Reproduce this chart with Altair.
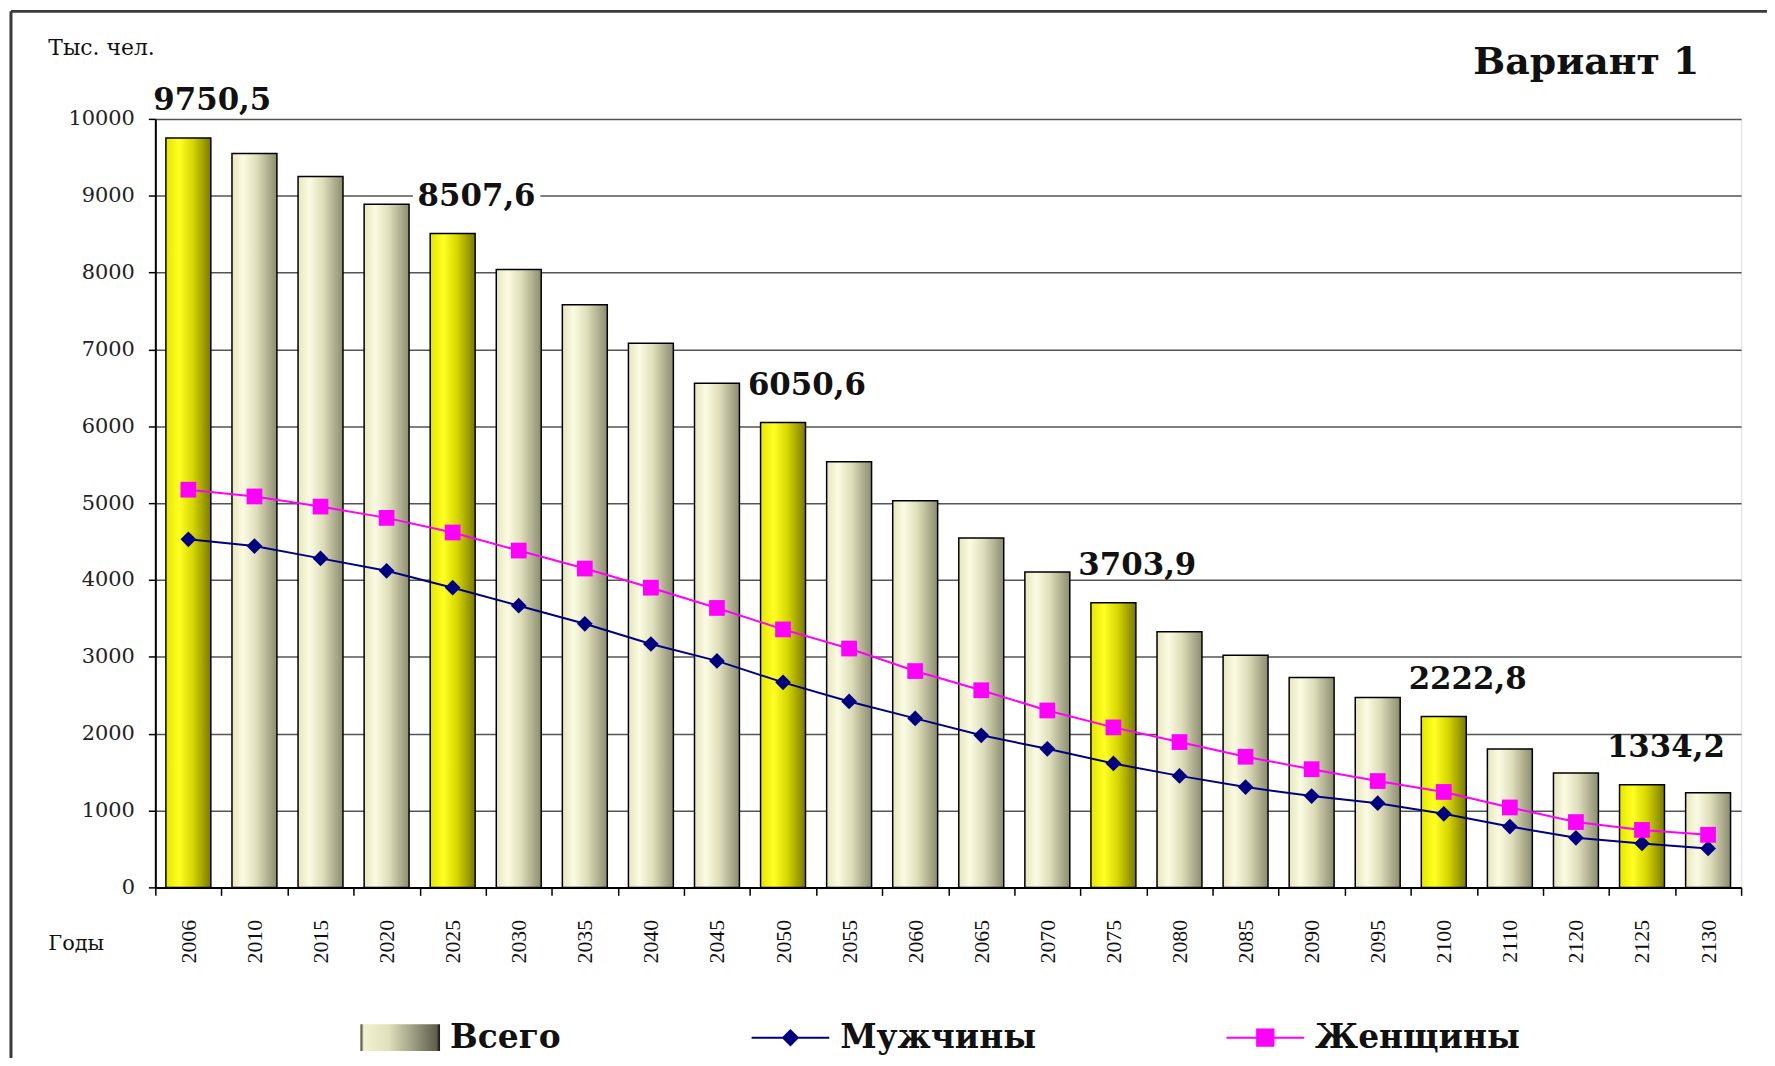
import altair as alt
import pandas as pd

years = ["2006", "2010", "2015", "2020", "2025", "2030", "2035", "2040", "2045", "2050",
         "2055", "2060", "2065", "2070", "2075", "2080", "2085", "2090", "2095", "2100",
         "2110", "2120", "2125", "2130"]
total = [9750.5, 9550, 9250, 8890, 8507.6, 8040, 7580, 7080, 6560, 6050.6,
         5540, 5030, 4545, 4105, 3703.9, 3328, 3020, 2730, 2470, 2222.8,
         1802, 1488, 1334.2, 1231]
men = [4530, 4442, 4281, 4119, 3900, 3665, 3430, 3167, 2947, 2668,
       2419, 2199, 1979, 1803, 1613, 1451, 1305, 1188, 1095, 958,
       791, 645, 572, 507]
women = [5175, 5087, 4955, 4808, 4618, 4383, 4149, 3900, 3636, 3357,
         3108, 2815, 2565, 2302, 2082, 1891, 1700, 1538, 1384, 1242,
         1040, 850, 748, 684]
highlight_years = ["2006", "2025", "2050", "2075", "2100", "2125"]
highlight_labels = ["9750,5", "8507,6", "6050,6", "3703,9", "2222,8", "1334,2"]
series_names = ["Всего", "Мужчины", "Женщины"]

bars_df = pd.DataFrame({"year": years, "value": total,
                        "hl": [y in highlight_years for y in years]})
lines_df = pd.DataFrame({"year": years + years, "value": men + women,
                         "series": [series_names[1]] * len(years) + [series_names[2]] * len(years)})
lab_df = bars_df[bars_df["hl"]].copy()
lab_df["label"] = highlight_labels

PW, PH = 1593, 772
SERIF = "DejaVu Serif"

grad_plain = alt.Gradient(gradient="linear", x1=0, x2=1, y1=0, y2=0, stops=[
    alt.GradientStop(color="#e6e6be", offset=0),
    alt.GradientStop(color="#fbfbe2", offset=0.25),
    alt.GradientStop(color="#dedeba", offset=0.55),
    alt.GradientStop(color="#8c8c70", offset=1)])
grad_yellow = alt.Gradient(gradient="linear", x1=0, x2=1, y1=0, y2=0, stops=[
    alt.GradientStop(color="#e6e600", offset=0),
    alt.GradientStop(color="#ffff26", offset=0.3),
    alt.GradientStop(color="#d6d600", offset=0.6),
    alt.GradientStop(color="#7a7a00", offset=1)])

legend_grad_expr = ("{gradient: 'linear', x1: 0, y1: 0, x2: 1, y2: 0, "
                    "stops: [{offset: 0, color: '#5a5a48'}, {offset: 0.03, color: '#f2f2d2'}, "
                    "{offset: 0.35, color: '#e0e0bc'}, {offset: 0.97, color: '#5e5e4c'}, "
                    "{offset: 1, color: '#202018'}]}")
series_colors = [alt.ExprRef(legend_grad_expr), "#000080", "#ff00ff"]

x_enc = alt.X("year:N", sort=years,
              scale=alt.Scale(paddingInner=0, paddingOuter=0),
              axis=alt.Axis(title="Годы", titleAngle=0, titleX=-108, titleY=56,
                            titleAlign="left", titleBaseline="middle",
                            titleFont=SERIF, titleFontSize=21, titleFontWeight="normal",
                            titleColor="#111",
                            labelAngle=270, labelAlign="right", labelBaseline="middle",
                            labelPadding=24, labelFont="Liberation Serif", labelFontSize=22,
                            labelColor="#111", labelOverlap=False,
                            tickBand="extent", tickSize=8, tickColor="#000", tickWidth=1.5,
                            domainColor="#000", domainWidth=2, grid=False))
y_enc = alt.Y("value:Q", scale=alt.Scale(domain=[0, 10000], nice=False),
              axis=alt.Axis(values=list(range(0, 10001, 1000)), format="d", title="Тыс. чел.",
                            titleAngle=0, titleX=-108, titleY=-72, titleAlign="left",
                            titleBaseline="middle", titleFont=SERIF, titleFontSize=22,
                            titleFontWeight="normal", titleColor="#111",
                            labelFont=SERIF, labelFontSize=21, labelColor="#222",
                            labelPadding=14, tickSize=7, tickColor="#000", tickWidth=1.5,
                            domainColor="#000", domainWidth=2,
                            grid=True, gridColor="#555", gridWidth=1.5))

bars_plain = alt.Chart(bars_df).transform_filter("!datum.hl").mark_bar(
    width=alt.RelativeBandSize(0.68), fill=grad_plain, stroke="#000", strokeWidth=1.5
).encode(x=x_enc, y=y_enc)
bars_hl = alt.Chart(bars_df).transform_filter("datum.hl").mark_bar(
    width=alt.RelativeBandSize(0.68), fill=grad_yellow, stroke="#000", strokeWidth=1.5
).encode(x=x_enc, y=y_enc)

SH_TOTAL = "M-1,-0.32H1V0.32H-1Z"
SH_MEN = "M-1,0H1M-0.19,0L0,-0.19L0.19,0L0,0.19Z"
SH_WOMEN = "M-1,0H1M-0.21,-0.21H0.21V0.21H-0.21Z"

shape_expr = ("datum.value === 'Всего' ? '%s' : (datum.value === 'Мужчины' ? '%s' : '%s')"
              % (SH_TOTAL, SH_MEN, SH_WOMEN))
fill_expr = ("datum.value === 'Всего' ? " + legend_grad_expr + " : "
             "(datum.value === 'Мужчины' ? '#000080' : '#ff00ff')")

legend = alt.Legend(
    title=None, orient="none", legendX=206, legendY=883, direction="horizontal",
    columnPadding=187, labelFont=SERIF, labelFontSize=33, labelFontWeight="bold",
    labelColor="#111", labelOffset=10, labelLimit=400, symbolSize=6084, padding=0,
    symbolType=alt.ExprRef(shape_expr), symbolFillColor=alt.ExprRef(fill_expr),
    symbolStrokeWidth=2, symbolOpacity=1)

color_scale = alt.Scale(domain=series_names, range=series_colors)

lines = alt.Chart(lines_df).mark_line(strokeWidth=2).encode(
    x=x_enc, y=y_enc,
    color=alt.Color("series:N", scale=color_scale, legend=legend))
points = alt.Chart(lines_df).mark_point(filled=True, size=250, opacity=1).encode(
    x=x_enc, y=y_enc,
    color=alt.Color("series:N", scale=color_scale, legend=None),
    shape=alt.Shape("series:N", scale=alt.Scale(domain=series_names[1:], range=["diamond", "square"]),
                    legend=None))

boxes = alt.Chart(lab_df).mark_point(
    shape="M-1,-0.18H1V0.18H-1Z", size=16384, filled=True, fill="white",
    opacity=1, strokeWidth=0, xOffset=24, yOffset=-37
).encode(x=x_enc, y=y_enc)
labels = alt.Chart(lab_df).mark_text(
    font=SERIF, fontSize=31, fontWeight="bold", color="#111",
    dx=24, dy=-37, align="center", baseline="middle"
).encode(x=x_enc, y=y_enc, text="label:N")

frame_df = pd.DataFrame({"k": [0]})
frame_left = alt.Chart(frame_df).mark_rule(color="#3a3a3a", strokeWidth=3).encode(
    x=alt.value(-145), y=alt.value(-108), y2=alt.value(PH + 200))
frame_top = alt.Chart(frame_df).mark_rule(color="#3a3a3a", strokeWidth=3).encode(
    x=alt.value(-145), x2=alt.value(PW + 40), y=alt.value(-108))

chart = alt.layer(frame_left, frame_top, bars_plain, bars_hl, lines, points, boxes, labels).properties(
    width=PW, height=PH,
    title=alt.TitleParams("Вариант 1", anchor="end", frame="group", font=SERIF,
                          fontSize=38, fontWeight="bold", color="#111", dx=-42, offset=10,
                          baseline="alphabetic", dy=112),
    padding={"left": 148, "top": 109, "right": 26, "bottom": 169},
    autosize=alt.AutoSizeParams(type="none"),
).configure_view(stroke="#808080", strokeWidth=2).configure(background="white")

chart.save("out.html", embed_options={"renderer": "svg", "actions": False})
